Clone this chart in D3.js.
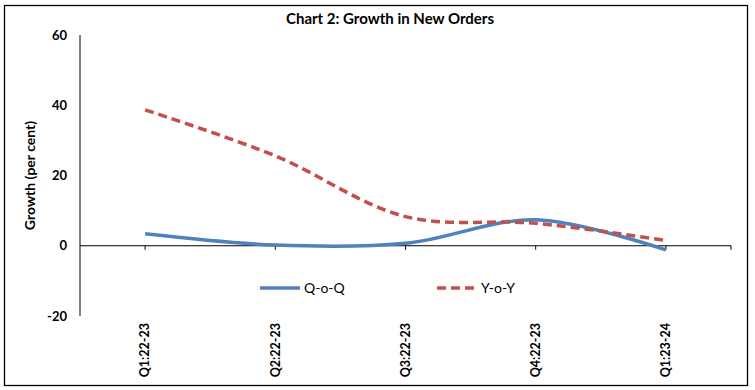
<!DOCTYPE html>
<html>
<head>
<meta charset="utf-8">
<script src="https://cdn.jsdelivr.net/npm/d3@7"></script>
<style>
  body { margin: 0; background: #fff; }
  svg { display: block; font-family: Lato, "Open Sans", sans-serif; }
</style>
</head>
<body>
<svg id="chart"></svg>
<script>
// chart data
var quarters = ["Q1:22-23", "Q2:22-23", "Q3:22-23", "Q4:22-23", "Q1:23-24"];
var qoq = [3.4, 0.2, 0.7, 7.4, -1.2];
var yoy = [38.7, 25.6, 8.3, 6.4, 1.5];
var yTicks = [-20, 0, 20, 40, 60];
var seriesNames = ["Q-o-Q", "Y-o-Y"];

var width = 755, height = 390;
var blue = "#4f81bd", red = "#c0504d";

var svg = d3.select("#chart")
    .attr("width", width)
    .attr("height", height);

// outer frame
svg.append("rect")
    .attr("x", 4.5).attr("y", 5.5)
    .attr("width", 743).attr("height", 380)
    .attr("fill", "none")
    .attr("stroke", "#000")
    .attr("stroke-width", 1.3);

svg.append("text")
    .attr("x", 390).attr("y", 24)
    .attr("text-anchor", "middle")
    .attr("font-size", 15)
    .attr("font-weight", "bold")
    .text("Chart 2: Growth in New Orders");

var x = d3.scaleBand().domain(quarters).range([80, 731]);
var y = d3.scaleLinear().domain([-20, 60]).range([316, 35]);

// y axis (no ticks)
svg.append("line")
    .attr("x1", 80).attr("x2", 80)
    .attr("y1", y(60)).attr("y2", y(-20))
    .attr("stroke", "#000").attr("stroke-width", 1);

svg.selectAll(".ylab")
    .data(yTicks)
    .enter().append("text")
    .attr("class", "ylab")
    .attr("x", 67)
    .attr("y", function(d) { return y(d); })
    .attr("dy", "0.35em")
    .attr("text-anchor", "end")
    .attr("font-size", 13)
    .attr("font-weight", "bold")
    .text(function(d) { return d; });

svg.append("text")
    .attr("transform", "translate(35," + ((y(60) + y(-20)) / 2) + ") rotate(-90)")
    .attr("text-anchor", "middle")
    .attr("font-size", 14)
    .attr("font-weight", "bold")
    .text("Growth (per cent)");

// x axis at zero
var zeroY = y(0);
svg.append("line")
    .attr("x1", 80).attr("x2", 731)
    .attr("y1", zeroY).attr("y2", zeroY)
    .attr("stroke", "#000").attr("stroke-width", 1);

var tickXs = quarters.map(function(q) { return x(q) + x.bandwidth() / 2; });
tickXs.push(731);
svg.selectAll(".xtick")
    .data(tickXs)
    .enter().append("line")
    .attr("x1", function(d) { return d; })
    .attr("x2", function(d) { return d; })
    .attr("y1", zeroY).attr("y2", zeroY + 4)
    .attr("stroke", "#000").attr("stroke-width", 1);

svg.selectAll(".xlab")
    .data(quarters)
    .enter().append("text")
    .attr("transform", function(d) {
        return "translate(" + (x(d) + x.bandwidth() / 2) + ",323) rotate(-90)";
    })
    .attr("dy", "0.35em")
    .attr("text-anchor", "end")
    .attr("font-size", 12.5)
    .attr("font-weight", "bold")
    .text(function(d) { return d; });

// lines
var line = d3.line()
    .x(function(d, i) { return x(quarters[i]) + x.bandwidth() / 2; })
    .y(function(d) { return y(d); })
    .curve(d3.curveCatmullRom.alpha(0.5));

svg.append("path")
    .attr("d", line(qoq))
    .attr("fill", "none")
    .attr("stroke", blue)
    .attr("stroke-width", 3.5);

svg.append("path")
    .attr("d", line(yoy))
    .attr("fill", "none")
    .attr("stroke", red)
    .attr("stroke-width", 3.5)
    .attr("stroke-dasharray", "9,5");

// legend
var legend = [
    {name: seriesNames[0], color: blue, dash: null, x: 260},
    {name: seriesNames[1], color: red, dash: "9,5", x: 437}
];
var lg = svg.selectAll(".lg").data(legend).enter().append("g");
lg.append("line")
    .attr("x1", function(d) { return d.x; })
    .attr("x2", function(d) { return d.x + 40; })
    .attr("y1", 288).attr("y2", 288)
    .attr("stroke", function(d) { return d.color; })
    .attr("stroke-width", 3.5)
    .attr("stroke-dasharray", function(d) { return d.dash; });
lg.append("text")
    .attr("x", function(d) { return d.x + 44; })
    .attr("y", 288)
    .attr("dy", "0.35em")
    .attr("font-size", 14)
    .text(function(d) { return d.name; });
</script>
</body>
</html>
